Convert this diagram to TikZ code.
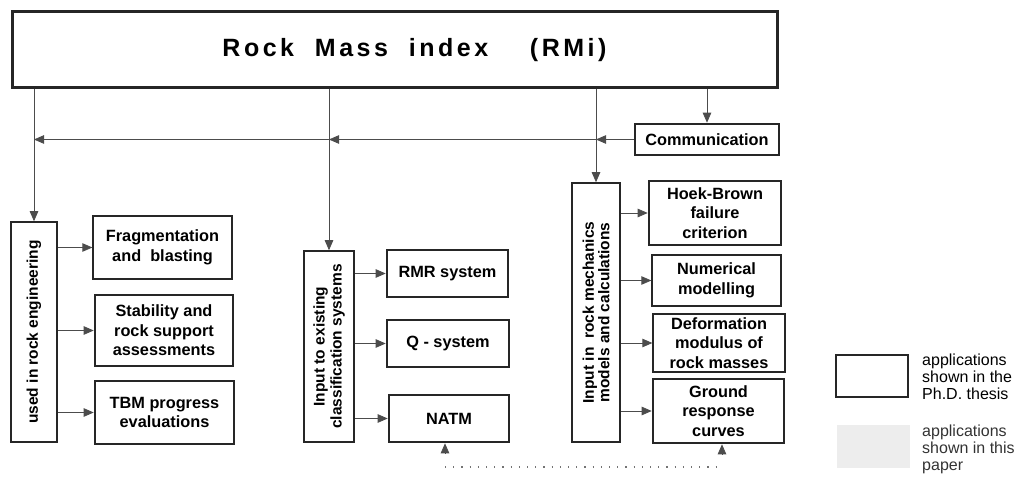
\documentclass[tikz,border=0pt]{standalone}
\usepackage{fontspec}
\setmainfont{Liberation Sans}
\usetikzlibrary{arrows.meta}
\begin{document}
\begin{tikzpicture}[x=1pt,y=-1pt,
  base/.style={draw=black!85,fill=white,inner sep=0pt,align=center,
    font=\bfseries\fontsize{16.3}{19.5}\selectfont},
  thickbox/.style={base,line width=2.6pt},
  thinbox/.style={base,line width=1.3pt},
  vbox/.style={base,line width=1.5pt,rotate=90,
    font=\bfseries\fontsize{15.5}{16}\selectfont},
  conn/.style={draw=black!70,line width=0.8pt,-{Triangle[length=10pt,width=8.5pt]}},
  dotline/.style={draw=black!55,line width=1.2pt,dash pattern=on 1.2pt off 7pt},
  legtext/.style={anchor=north west,align=left,inner sep=0pt,
    font=\fontsize{16}{16.8}\selectfont}
]
\useasboundingbox (0,0) rectangle (1029,478);

% title
\node[base,line width=3pt,minimum width=765pt,minimum height=76pt,
  font=\bfseries\fontsize{25}{28}\selectfont\addfontfeatures{LetterSpace=14}]
  (title) at (394.5,50) {\hspace*{40pt}Rock~~Mass~~index~~~~(RMi)};

\node[thickbox,minimum width=144pt,minimum height=31pt] (comm) at (707,139.5) {Communication};

% vertical boxes
\node[vbox,minimum width=220pt,minimum height=46pt] (vL) at (34,332) {used in rock engineering};
\node[vbox,minimum width=191pt,minimum height=50pt,
  font=\bfseries\fontsize{15.5}{17}\selectfont] (vM) at (329,346.5)
  {Input to existing\\classification systems};
\node[vbox,minimum width=259pt,minimum height=48pt,
  font=\bfseries\fontsize{15.5}{15.5}\selectfont] (vR) at (596,312.5)
  {Input in~ rock mechanics\\models and calculations};

% left column
\node[thinbox,minimum width=139pt,minimum height=63pt] (frag) at (162.5,247.5) {Fragmentation\\and~ blasting};
\node[thickbox,minimum width=138pt,minimum height=71pt] (stab) at (164,330.5) {Stability and\\rock support\\assessments};
\node[thickbox,minimum width=139pt,minimum height=63pt] (tbm) at (164.5,412.5) {TBM progress\\evaluations};

% middle column
\node[thickbox,minimum width=121pt,minimum height=47pt] (rmr) at (447.5,273.5) {RMR system};
\node[thickbox,minimum width=122pt,minimum height=47pt] (q) at (448,343.5) {Q - system};
\node[thickbox,minimum width=120pt,minimum height=47pt] (natm) at (449,418.5) {NATM};

% right column
\node[thickbox,minimum width=132pt,minimum height=64pt] (hb) at (715,213) {Hoek-Brown\\failure\\criterion};
\node[thinbox,minimum width=129pt,minimum height=51pt] (num) at (716.5,280.5) {Numerical\\modelling};
\node[thinbox,minimum width=132pt,minimum height=58pt] (def) at (719,343) {Deformation\\modulus of\\rock masses};
\node[thickbox,minimum width=131pt,minimum height=64pt] (gr) at (718.5,411) {Ground\\response\\curves};

% legend
\node[draw=black!85,line width=2.6pt,minimum width=72pt,minimum height=42pt,inner sep=0pt] (leg1) at (872,376) {};
\node[fill=black!7,minimum width=73pt,minimum height=43pt,inner sep=0pt] (leg2) at (873,446.5) {};
\node[legtext] (legt1) at (922,354) {applications\\shown in the\\Ph.D. thesis};
\node[legtext,text=black!80] (legt2) at (922,425) {applications\\shown in this\\paper};

% connectors from title
\draw[conn] (vL.east |- title.south) -- (vL.east);
\draw[conn] (vM.east |- title.south) -- (vM.east);
\draw[conn] (vR.east |- title.south) -- (vR.east);
\draw[conn] (comm.north |- title.south) -- (comm.north);

% horizontal feedback line from Communication
\coordinate (hR) at (comm.west -| vR.east);
\coordinate (hM) at (comm.west -| vM.east);
\coordinate (hL) at (comm.west -| vL.east);
\draw[conn] (comm.west) -- (hR);
\draw[conn] (hR) -- (hM);
\draw[conn] (hM) -- (hL);

% left arrows
\draw[conn] (vL.south |- frag.west) -- (frag.west);
\draw[conn] (vL.south |- stab.west) -- (stab.west);
\draw[conn] (vL.south |- tbm.west) -- (tbm.west);
% middle arrows
\draw[conn] (vM.south |- rmr.west) -- (rmr.west);
\draw[conn] (vM.south |- q.west) -- (q.west);
\draw[conn] (vM.south |- natm.west) -- (natm.west);
% right arrows
\draw[conn] (vR.south |- hb.west) -- (hb.west);
\draw[conn] (vR.south |- num.west) -- (num.west);
\draw[conn] (vR.south |- def.west) -- (def.west);
\draw[conn] (vR.south |- gr.west) -- (gr.west);

% dotted link NATM -- Ground response curves
\coordinate (d1) at (445,467);
\coordinate (d2) at (722,467);
\draw[dotline] (d1) -- (d2);
\draw[conn] ([yshift=-10pt]natm.south -| d1) -- (natm.south -| d1);
\draw[conn] ([yshift=-10pt]gr.south -| d2) -- (gr.south -| d2);
\end{tikzpicture}
\end{document}
